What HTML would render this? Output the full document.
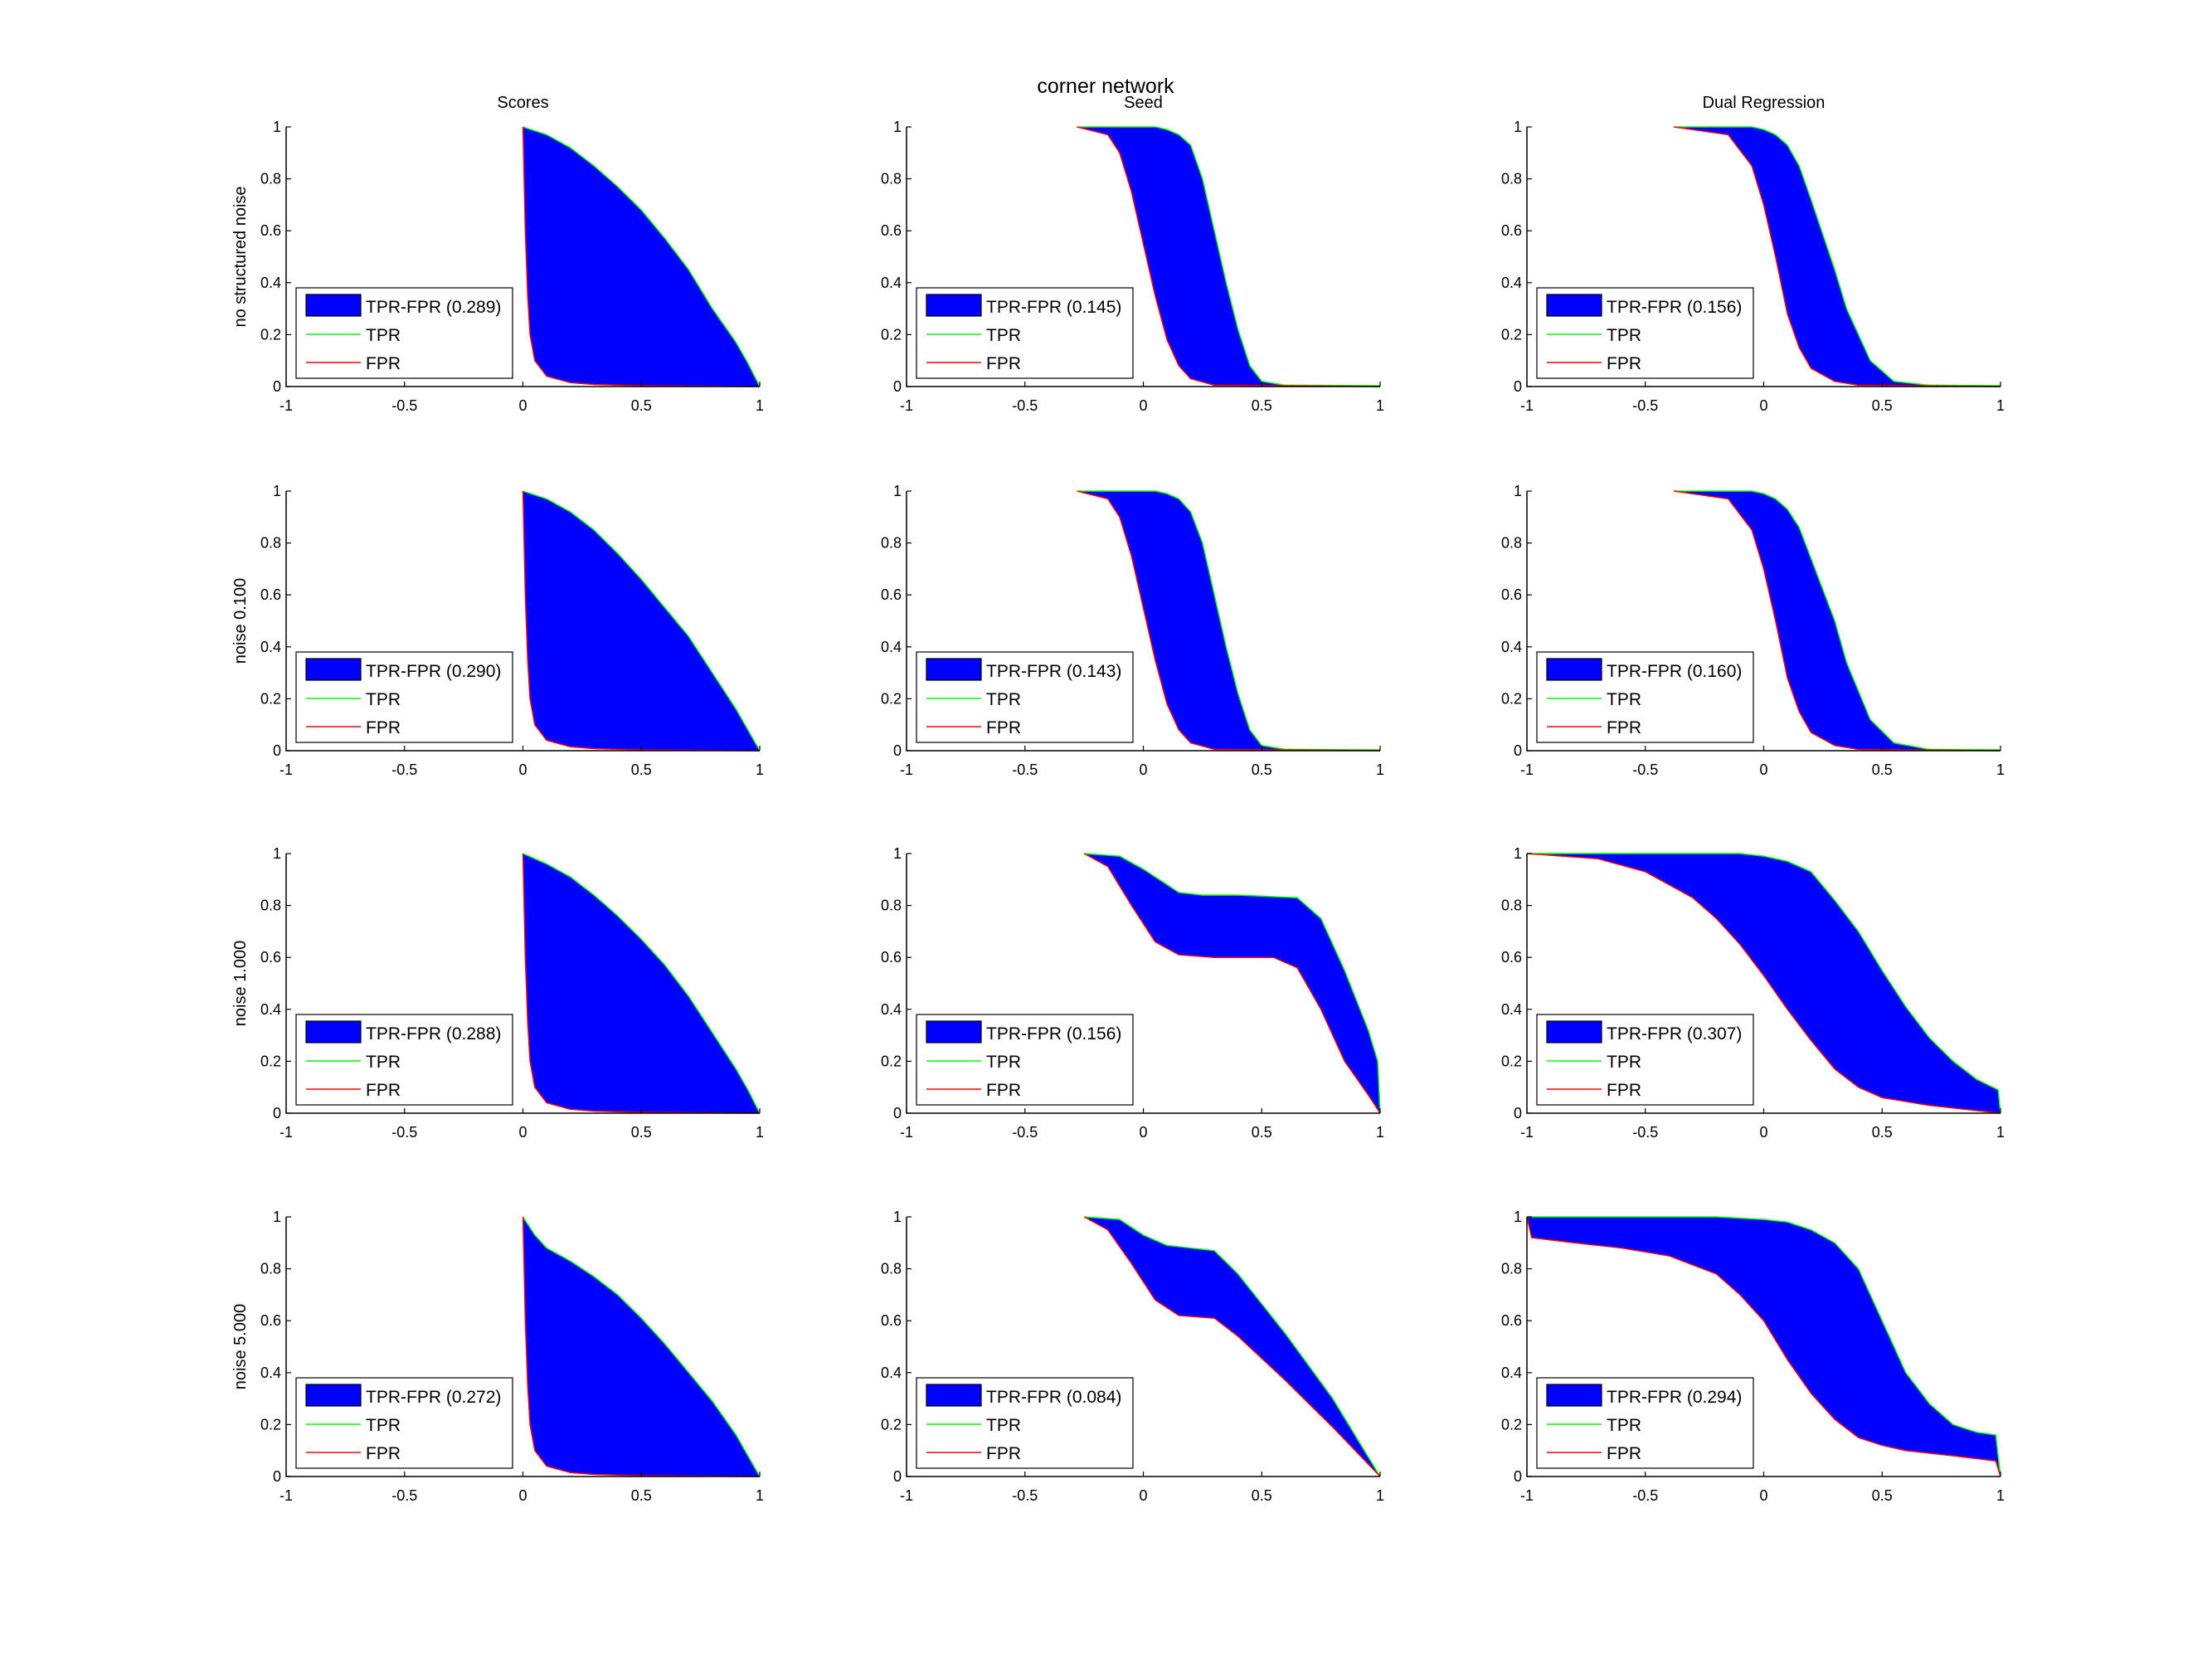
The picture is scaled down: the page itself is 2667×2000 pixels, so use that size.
<!DOCTYPE html>
<html><head><meta charset="utf-8">
<style>
html,body{margin:0;padding:0;background:#fff;}
svg{display:block;font-family:"Liberation Sans",sans-serif;}
</style></head>
<body>
<svg id="fig" width="2667" height="2000" viewBox="0 0 2667 2000">
<rect width="2667" height="2000" fill="#fff"/>
<text x="1333" y="112" font-size="25" text-anchor="middle">corner network</text>
</svg>
<script>
const colTitles = ["Scores","Seed","Dual Regression"];
const rowTitles = ["no structured noise","noise 0.100","noise 1.000","noise 5.000"];
const xTicks = [-1,-0.5,0,0.5,1];
const xTickLabels = ["-1","-0.5","0","0.5","1"];
const yTicks = [0,0.2,0.4,0.6,0.8,1];
const yTickLabels = ["0","0.2","0.4","0.6","0.8","1"];
const aucValues = [["0.289","0.145","0.156"],["0.290","0.143","0.160"],["0.288","0.156","0.307"],["0.272","0.084","0.294"]];

// [row][col] threshold x, TPR, FPR
const tprX = [
 [[0,0.1,0.2,0.3,0.4,0.5,0.6,0.7,0.8,0.9,0.95,1],[-0.28,0.05,0.1,0.15,0.2,0.25,0.3,0.35,0.4,0.45,0.5,0.6,1],[-0.38,-0.05,0,0.05,0.1,0.15,0.2,0.3,0.35,0.45,0.55,0.7,1]],
 [[0,0.1,0.2,0.3,0.4,0.5,0.6,0.7,0.8,0.9,0.95,1],[-0.28,0.05,0.1,0.15,0.2,0.25,0.3,0.35,0.4,0.45,0.5,0.6,1],[-0.38,-0.05,0,0.05,0.1,0.15,0.2,0.3,0.35,0.45,0.55,0.7,1]],
 [[0,0.1,0.2,0.3,0.4,0.5,0.6,0.7,0.8,0.9,0.95,1],[-0.25,-0.1,0,0.1,0.15,0.25,0.4,0.65,0.75,0.85,0.95,0.99,1],[-1,-0.1,0,0.1,0.2,0.3,0.4,0.5,0.6,0.7,0.8,0.9,0.99,1]],
 [[0,0.05,0.1,0.2,0.3,0.4,0.5,0.6,0.7,0.8,0.9,1],[-0.25,-0.1,0,0.1,0.2,0.3,0.4,0.6,0.8,1],[-1,-0.2,0,0.1,0.2,0.3,0.4,0.5,0.6,0.7,0.8,0.9,0.98,1]]
];
const tprY = [
 [[1,0.97,0.92,0.85,0.77,0.68,0.57,0.45,0.3,0.17,0.09,0],[1,1,0.99,0.97,0.93,0.8,0.6,0.4,0.22,0.08,0.02,0.005,0.003],[1,1,0.99,0.97,0.93,0.85,0.72,0.45,0.3,0.1,0.02,0.005,0.003]],
 [[1,0.97,0.92,0.85,0.76,0.66,0.55,0.44,0.3,0.16,0.08,0],[1,1,0.99,0.97,0.92,0.8,0.6,0.4,0.22,0.08,0.02,0.005,0.003],[1,1,0.99,0.97,0.93,0.86,0.74,0.5,0.34,0.12,0.03,0.005,0.003]],
 [[1,0.96,0.91,0.84,0.76,0.67,0.57,0.45,0.31,0.17,0.09,0],[1,0.99,0.94,0.88,0.85,0.84,0.84,0.83,0.75,0.55,0.32,0.2,0],[1,1,0.99,0.97,0.93,0.82,0.7,0.55,0.41,0.29,0.2,0.13,0.09,0]],
 [[1,0.93,0.88,0.83,0.77,0.7,0.61,0.51,0.4,0.29,0.16,0],[1,0.99,0.93,0.89,0.88,0.87,0.78,0.55,0.3,0],[1,1,0.99,0.98,0.95,0.9,0.8,0.6,0.4,0.28,0.2,0.17,0.16,0]]
];
const fprX = [
 [[0,0.01,0.02,0.03,0.05,0.1,0.2,0.3,0.5,1],[-0.28,-0.15,-0.1,-0.05,0,0.05,0.1,0.15,0.2,0.3,1],[-0.38,-0.15,-0.05,0,0.05,0.1,0.15,0.2,0.3,0.4,1]],
 [[0,0.01,0.02,0.03,0.05,0.1,0.2,0.3,0.5,1],[-0.28,-0.15,-0.1,-0.05,0,0.05,0.1,0.15,0.2,0.3,1],[-0.38,-0.15,-0.05,0,0.05,0.1,0.15,0.2,0.3,0.4,1]],
 [[0,0.01,0.02,0.03,0.05,0.1,0.2,0.3,0.5,1],[-0.25,-0.15,-0.05,0.05,0.15,0.3,0.55,0.65,0.75,0.85,0.95,1],[-1,-0.7,-0.5,-0.3,-0.2,-0.1,0,0.1,0.2,0.3,0.4,0.5,0.7,1]],
 [[0,0.01,0.02,0.03,0.05,0.1,0.2,0.3,0.5,1],[-0.25,-0.15,-0.05,0.05,0.15,0.3,0.4,0.6,0.8,1],[-1,-0.98,-0.8,-0.6,-0.4,-0.2,-0.1,0,0.1,0.2,0.3,0.4,0.5,0.6,0.8,0.98,1]]
];
const fprY = [
 [[1,0.6,0.35,0.2,0.1,0.04,0.015,0.008,0.003,0],[1,0.97,0.9,0.75,0.55,0.35,0.18,0.08,0.03,0.005,0],[1,0.97,0.85,0.7,0.5,0.28,0.15,0.07,0.02,0.005,0]],
 [[1,0.6,0.35,0.2,0.1,0.04,0.015,0.008,0.003,0],[1,0.97,0.9,0.75,0.55,0.35,0.18,0.08,0.03,0.005,0],[1,0.97,0.85,0.7,0.5,0.28,0.15,0.07,0.02,0.005,0]],
 [[1,0.6,0.35,0.2,0.1,0.04,0.015,0.008,0.003,0],[1,0.95,0.8,0.66,0.61,0.6,0.6,0.56,0.4,0.2,0.07,0],[1,0.98,0.93,0.83,0.75,0.65,0.53,0.4,0.28,0.17,0.1,0.06,0.03,0]],
 [[1,0.6,0.35,0.2,0.1,0.04,0.015,0.008,0.003,0],[1,0.95,0.82,0.68,0.62,0.61,0.54,0.37,0.19,0],[1,0.92,0.9,0.88,0.85,0.78,0.7,0.6,0.45,0.32,0.22,0.15,0.12,0.1,0.08,0.06,0]]
];

const NS="http://www.w3.org/2000/svg";
const svg=document.getElementById('fig');
const colLeft=[345,1093,1841], axW=571;
const rowTop=[153,592,1029,1467], axH=313;
function mk(tag,attrs,parent,text){const e=document.createElementNS(NS,tag);for(const k in attrs)e.setAttribute(k,attrs[k]);if(text!==undefined)e.textContent=text;(parent||svg).appendChild(e);return e;}

for(let c=0;c<3;c++){
  const t=mk('text',{x:colLeft[c]+axW/2,y:130,'font-size':20,'text-anchor':'middle'},svg,colTitles[c]);
  
  
}
for(let r=0;r<4;r++){
  const cy=rowTop[r]+axH/2;
  const t=mk('text',{x:0,y:0,'font-size':20,'text-anchor':'middle',transform:`translate(296,${cy}) rotate(-90)`},svg,rowTitles[r]);
  
  
  for(let c=0;c<3;c++){
    const L=colLeft[c],T=rowTop[r],B=T+axH,R=L+axW;
    const sx=v=>L+(v+1)/2*axW, sy=v=>B-v*axH;
    const g=mk('g',{});
    
    
    const tx=tprX[r][c],ty=tprY[r][c],fx=fprX[r][c],fy=fprY[r][c];
    let d='M'+tx.map((v,i)=>sx(v)+','+sy(ty[i])).join(' L');
    for(let i=fx.length-1;i>=0;i--) d+=' L'+sx(fx[i])+','+sy(fy[i]);
    d+=' Z';
    const area=mk('path',{d:d,fill:'#0000ff',stroke:'none'},g);
    
    
    const tl=mk('polyline',{points:tx.map((v,i)=>sx(v)+','+sy(ty[i])).join(' '),fill:'none',stroke:'#00ff00','stroke-width':1.5},g);
    
    
    const fl=mk('polyline',{points:fx.map((v,i)=>sx(v)+','+sy(fy[i])).join(' '),fill:'none',stroke:'#ff0000','stroke-width':1.5},g);
    
    
    const ax=mk('path',{d:`M${L},${T} L${L},${B} L${R},${B}`,fill:'none',stroke:'#000','stroke-width':1.5},g);
    
    
    xTicks.forEach((v,i)=>{
      mk('line',{x1:sx(v),x2:sx(v),y1:B,y2:B-6,stroke:'#000','stroke-width':1.2},g);
      const lt=mk('text',{x:sx(v),y:B+29,'font-size':18,'text-anchor':'middle'},g,xTickLabels[i]);
      
      
    });
    yTicks.forEach((v,i)=>{
      mk('line',{x1:L,x2:L+6,y1:sy(v),y2:sy(v),stroke:'#000','stroke-width':1.2},g);
      const lt=mk('text',{x:L-6,y:sy(v)+6,'font-size':18,'text-anchor':'end'},g,yTickLabels[i]);
      
      
    });
    const lg=mk('g',{},g);
    
    
    const lx=L+12, ly=T+194;
    mk('rect',{x:lx,y:ly,width:261,height:109,fill:'#fff',stroke:'#000','stroke-width':1.2},lg);
    mk('rect',{x:lx+12,y:ly+8,width:66,height:26,fill:'#0000ff',stroke:'#000','stroke-width':1.2},lg);
    mk('text',{x:lx+84,y:ly+30,'font-size':21},lg,'TPR-FPR ('+aucValues[r][c]+')');
    mk('line',{x1:lx+12,x2:lx+78,y1:ly+56,y2:ly+56,stroke:'#00ff00','stroke-width':1.5},lg);
    mk('text',{x:lx+84,y:ly+64,'font-size':21},lg,'TPR');
    mk('line',{x1:lx+12,x2:lx+78,y1:ly+90,y2:ly+90,stroke:'#ff0000','stroke-width':1.5},lg);
    mk('text',{x:lx+84,y:ly+98,'font-size':21},lg,'FPR');
  }
}
</script>
</body></html>
